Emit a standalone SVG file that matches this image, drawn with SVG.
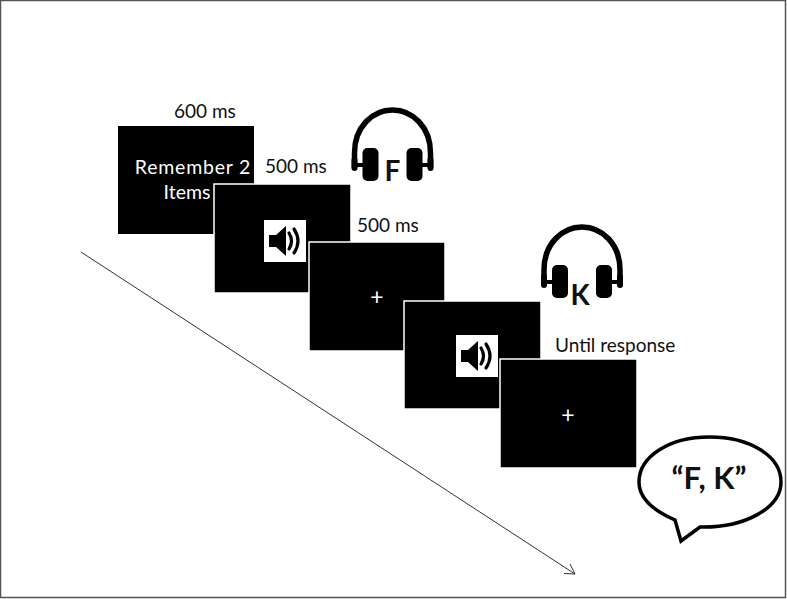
<svg xmlns="http://www.w3.org/2000/svg" width="787" height="599" viewBox="0 0 787 599">
<style>
text{font-family:Lato,"Open Sans","Liberation Sans",sans-serif}
.t{font-size:19px;fill:#111}
.w{font-size:19.500px;fill:#fff}
.p{font-size:23px;fill:#fff}
.s{fill:#000;stroke:#fff;stroke-width:1.5}
.bd{font-weight:700;fill:#111}
</style>
<defs>
<g id="phones">
<path d="M-38 25V10C-38-16-20-33 0-33S38-16 38 10V25" fill="none" stroke="#000" stroke-width="5.500"/>
<rect x="-41" y="14" width="6" height="14" rx="3"/>
<rect x="35" y="14" width="6" height="14" rx="3"/>
<path d="M-38 22H-28M28 22H38" stroke="#000" stroke-width="4"/>
<rect x="-30" y="5" width="16" height="33" rx="5"/>
<rect x="14" y="5" width="16" height="33" rx="5"/>
</g>
<g id="spk">
<rect x="0" y="0" width="42" height="42" fill="#fff"/>
<path d="M5 15H12L22 6V36L12 27H5Z" fill="#000"/>
<path d="M25 13Q30 21 25 29M30 9Q38 21 30 33" fill="none" stroke="#000" stroke-width="3.200" stroke-linecap="round"/>
</g>
</defs>
<rect width="787" height="599" fill="#fff"/>
<rect x="0.500" y="0.500" width="785" height="597" fill="none" stroke="#555" stroke-width="1.500"/>
<g id="connectors">
<path d="M81 252L575 574" fill="none" stroke="#333" stroke-width="1"/>
<path d="M564 573.500L575 574L570 564" fill="none" stroke="#333" stroke-width="1"/>
</g>
<g id="n1">
<rect x="118" y="126" width="136" height="108" fill="#000"/>
<text class="w" x="193" y="174" text-anchor="middle" letter-spacing="0.800">Remember 2</text>
<text class="w" x="187" y="199" text-anchor="middle">Items</text>
<text class="t" x="174" y="118">600 ms</text>
</g>
<g id="n2">
<rect class="s" x="214" y="184" width="137" height="109"/>
<use href="#spk" x="264" y="220"/>
<text class="t" x="265" y="173">500 ms</text>
</g>
<g id="n3">
<rect class="s" x="309" y="242" width="136" height="109"/>
<text class="p" x="377" y="305" text-anchor="middle">+</text>
<text class="t" x="357" y="232">500 ms</text>
</g>
<g id="n4">
<rect class="s" x="404" y="301" width="137" height="108"/>
<use href="#spk" x="456" y="335"/>
</g>
<g id="n5">
<rect class="s" x="500" y="359" width="137" height="109"/>
<text class="p" x="568" y="423" text-anchor="middle">+</text>
<text class="t" x="555" y="352">Until response</text>
</g>
<g id="h1">
<use href="#phones" x="392.500" y="143"/>
<text class="bd" x="392.500" y="181" font-size="28" text-anchor="middle">F</text>
</g>
<g id="h2">
<use href="#phones" x="582" y="260"/>
<text class="bd" x="580" y="305" font-size="28" text-anchor="middle">K</text>
</g>
<g id="bubble">
<path d="M675 520C652 510 639 497 639 482C639 456 670 437 709.500 437C750 437 781 456 781 482C781 508 745 528 700 527L681 541Z" fill="#fff" stroke="#000" stroke-width="3.500"/>
<text class="bd" x="709" y="489" font-size="31" text-anchor="middle">“F, K”</text>
</g>
</svg>
